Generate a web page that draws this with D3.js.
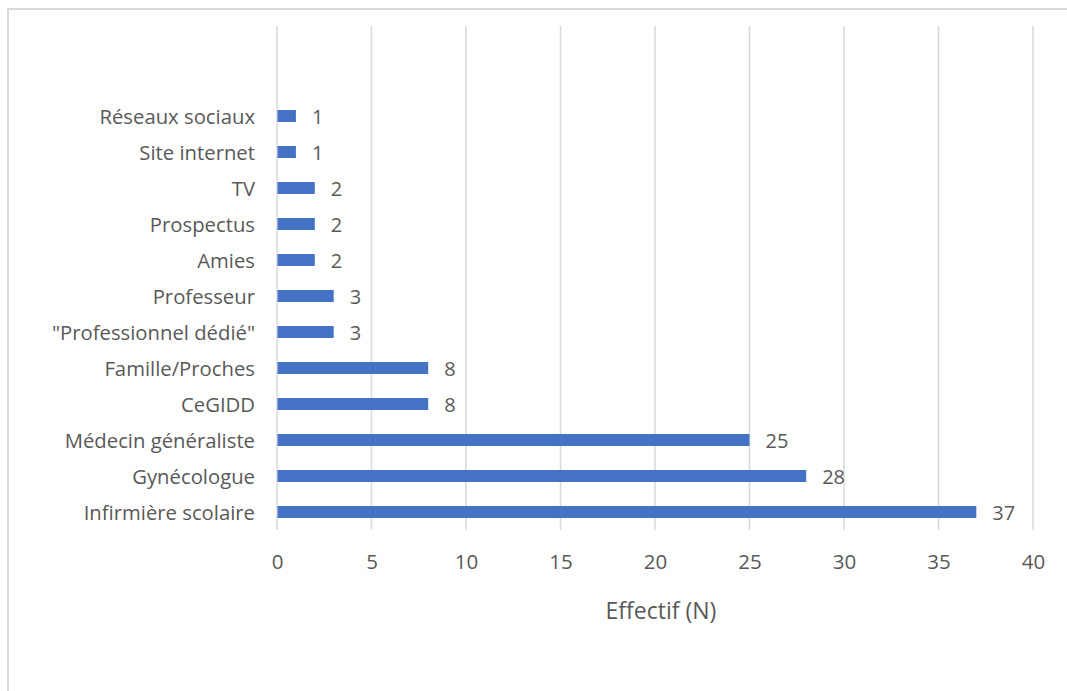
<!DOCTYPE html>
<html>
<head>
<meta charset="utf-8">
<script src="https://cdn.jsdelivr.net/npm/d3@7"></script>
<style>
  html, body { margin: 0; padding: 0; background: #ffffff; }
  svg { display: block; }
  text { font-family: "Open Sans", "Noto Sans", sans-serif; fill: #595959; }
</style>
</head>
<body>
<svg id="chart" width="1067" height="691"></svg>
<script>
// Categories, top to bottom
const categories = [
  "Réseaux sociaux",
  "Site internet",
  "TV",
  "Prospectus",
  "Amies",
  "Professeur",
  "\"Professionnel dédié\"",
  "Famille/Proches",
  "CeGIDD",
  "Médecin généraliste",
  "Gynécologue",
  "Infirmière scolaire"
];
const values = [1, 1, 2, 2, 2, 3, 3, 8, 8, 25, 28, 37];
const xTicks = [0, 5, 10, 15, 20, 25, 30, 35, 40];
const xTitle = "Effectif (N)";

const svg = d3.select("#chart");
const W = 1067, H = 691;

// Plot area
const plot = { left: 277, right: 1033, top: 26, bottom: 530 };
const blankRows = 2; // two empty category rows above the first bar
const step = (plot.bottom - plot.top) / (categories.length + blankRows);

const x = d3.scaleLinear().domain([0, 40]).range([plot.left, plot.right]);
const y = d3.scaleBand()
  .domain(categories)
  .range([plot.top + blankRows * step, plot.bottom])
  .paddingInner(0.667)
  .paddingOuter(0.3335);

// Chart frame
svg.append("rect")
  .attr("x", 8).attr("y", 9)
  .attr("width", W + 20).attr("height", H + 20)
  .attr("fill", "none")
  .attr("stroke", "#d9d9d9")
  .attr("stroke-width", 2);

// Vertical gridlines
svg.append("g")
  .selectAll("line")
  .data(xTicks)
  .join("line")
  .attr("x1", d => x(d)).attr("x2", d => x(d))
  .attr("y1", plot.top).attr("y2", plot.bottom)
  .attr("stroke", "#d9d9d9")
  .attr("stroke-width", 1.5);

// X axis tick labels
const xAxis = d3.axisBottom(x).tickValues(xTicks).tickSize(0).tickPadding(0);
const gx = svg.append("g")
  .attr("transform", `translate(0,${plot.bottom})`)
  .call(xAxis);
gx.select(".domain").remove();
gx.selectAll("text")
  .attr("y", 32)
  .attr("dy", "0.35em")
  .style("font-size", "20.5px")
  .style("font-family", "'Open Sans', sans-serif")
  .attr("fill", "#595959");

// Category labels
const gy = svg.append("g")
  .attr("transform", `translate(${plot.left},0)`)
  .call(d3.axisLeft(y).tickSize(0).tickPadding(22));
gy.select(".domain").remove();
gy.selectAll("text")
  .attr("dy", "0.38em")
  .style("font-size", "20.3px")
  .style("font-family", "'Open Sans', sans-serif")
  .attr("fill", "#595959");

// Bars
svg.append("g")
  .selectAll("rect")
  .data(categories)
  .join("rect")
  .attr("x", x(0) + 0.5)
  .attr("y", d => y(d))
  .attr("width", (d, i) => x(values[i]) - x(0) - 0.5)
  .attr("height", y.bandwidth())
  .attr("fill", "#4472c4");

// Value labels
svg.append("g")
  .selectAll("text")
  .data(categories)
  .join("text")
  .attr("x", (d, i) => x(values[i]) + 16)
  .attr("y", d => y(d) + y.bandwidth() / 2)
  .attr("dy", "0.38em")
  .style("font-size", "20px")
  .text((d, i) => values[i]);

// Axis title
svg.append("text")
  .attr("x", 661)
  .attr("y", 619)
  .attr("text-anchor", "middle")
  .style("font-size", "23px")
  .text(xTitle);
</script>
</body>
</html>
